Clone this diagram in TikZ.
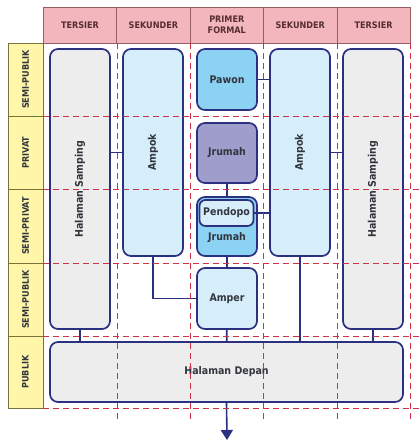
\documentclass[tikz,border=0pt]{standalone}
\usepackage{fontspec}
\setmainfont{DejaVu Sans Condensed}
\usetikzlibrary{arrows.meta}

\definecolor{navy}{RGB}{44,48,128}
\definecolor{headfill}{RGB}{243,182,188}
\definecolor{headline}{RGB}{150,95,100}
\definecolor{headtext}{RGB}{85,45,50}
\definecolor{zonefill}{RGB}{255,246,170}
\definecolor{zoneline}{RGB}{120,115,60}
\definecolor{grayfill}{RGB}{237,237,237}
\definecolor{lightblue}{RGB}{214,238,250}
\definecolor{midblue}{RGB}{140,210,242}
\definecolor{purplefill}{RGB}{158,157,204}
\definecolor{gridred}{RGB}{208,48,72}
\definecolor{roomtext}{RGB}{50,52,62}

\tikzset{
  head/.style={draw=headline, fill=headfill, line width=0.8pt, inner sep=0pt,
    minimum width=73.4pt, minimum height=36pt, align=center, text=headtext,
    font=\bfseries\fontsize{9}{10.5}\selectfont},
  zone/.style={draw=zoneline, fill=zonefill, line width=0.8pt, inner sep=0pt,
    minimum width=35pt, text=roomtext, font=\bfseries\fontsize{9}{10}\selectfont},
  room/.style={draw=navy, line width=1.7pt, rounded corners=8pt, inner sep=0pt,
    minimum width=60pt, text=roomtext, font=\bfseries\fontsize{10.5}{12}\selectfont},
  link/.style={draw=navy, line width=1.6pt},
  grid/.style={draw=gridred, line width=0.9pt, dash pattern=on 6pt off 4pt}
}

\begin{document}
\begin{tikzpicture}[x=1pt, y=-1pt]
    \useasboundingbox (0,0) rectangle (419,441);

    % Column headers
    \node[head] (hTL) at (80,25) {TERSIER};
    \node[head] (hSL) at (153.4,25) {SEKUNDER};
    \node[head] (hPF) at (226.8,25) {PRIMER\\FORMAL};
    \node[head] (hSR) at (300.2,25) {SEKUNDER};
    \node[head] (hTR) at (373.6,25) {TERSIER};

    % Row labels
    \node[zone, minimum height=73pt] (zSP1) at (25.5,79.5) {\rotatebox{90}{SEMI-PUBLIK}};
    \node[zone, minimum height=73pt] (zPV) at (25.5,152.5) {\rotatebox{90}{PRIVAT}};
    \node[zone, minimum height=74pt] (zSPV) at (25.5,226) {\rotatebox{90}{SEMI-PRIVAT}};
    \node[zone, minimum height=73pt] (zSP2) at (25.5,299.5) {\rotatebox{90}{SEMI-PUBLIK}};
    \node[zone, minimum height=72pt] (zPB) at (25.5,372) {\rotatebox{90}{PUBLIK}};

    % Rooms
    \node[room, fill=grayfill, minimum height=280pt] (hsL) at (80,189) {\rotatebox{90}{Halaman Samping}};
    \node[room, fill=lightblue, minimum height=207pt] (ampokL) at (153,152.5) {\rotatebox{90}{Ampok}};
    \node[room, fill=midblue, minimum height=61pt] (pawon) at (227,79.5) {Pawon};
    \node[room, fill=lightblue, minimum height=207pt] (ampokR) at (300,152.5) {\rotatebox{90}{Ampok}};
    \node[room, fill=grayfill, minimum height=280pt] (hsR) at (373,189) {\rotatebox{90}{Halaman Samping}};
    \node[room, fill=purplefill, minimum height=60pt] (jrumahA) at (227,153) {Jrumah};
    \node[room, fill=midblue, minimum height=59pt] (jrumahB) at (227,226.5) {};
    \node[room, fill=lightblue, minimum width=54pt, minimum height=26pt, rounded corners=6pt] (pendopo) at (226.5,213) {Pendopo};
    \node[text=roomtext, font=\bfseries\fontsize{10.5}{12}\selectfont] (jrumahBtxt) at (227,238) {Jrumah};
    \node[room, fill=lightblue, minimum height=61pt] (amper) at (227,298.5) {Amper};
    \node[room, fill=grayfill, minimum width=353pt, minimum height=60pt] (depan) at (226.5,372) {Halaman Depan};
    \coordinate (out) at (227,440);

    % Connections
    \draw[link] (pawon.east) -- (ampokR.west |- pawon.east);
    \draw[link] (ampokL.west) -- (hsL.east |- ampokL.west);
    \draw[link] (ampokR.east) -- (hsR.west |- ampokR.east);
    \draw[link] (jrumahA) -- (jrumahB);
    \draw[link] (pendopo.east) -- (ampokR.west |- pendopo.east);
    \draw[link] (jrumahB) -- (amper);
    \draw[link] (ampokL.south) |- (amper.west);
    \draw[link] (ampokR.south) -- (ampokR.south |- depan.north);
    \draw[link] (hsL.south) -- (hsL.south |- depan.north);
    \draw[link] (amper) -- (depan);
    \draw[link] (hsR.south) -- (hsR.south |- depan.north);
    \draw[link, -{Triangle[width=12pt,length=10pt]}] (depan.south) -- (out);

    % Zone grid (dashed)
    \draw[grid] (117,43) -- (117,420);
    \draw[grid] (190.4,43) -- (190.4,420);
    \draw[grid] (263.8,43) -- (263.8,420);
    \draw[grid] (337.2,43) -- (337.2,420);
    \draw[grid] (410.6,43) -- (410.6,420);
    \draw[grid] (43,116) -- (419,116);
    \draw[grid] (43,189) -- (419,189);
    \draw[grid] (43,263) -- (419,263);
    \draw[grid] (43,336) -- (419,336);
    \draw[grid] (43,408) -- (419,408);
\end{tikzpicture}
\end{document}
